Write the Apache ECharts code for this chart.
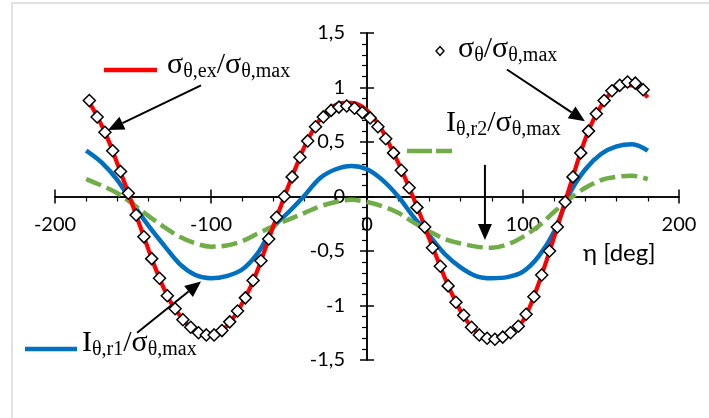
<!DOCTYPE html>
<html>
<head>
<meta charset="utf-8">
<script src="https://cdn.jsdelivr.net/npm/echarts@6/dist/echarts.min.js"></script>
<style>
  html, body { margin: 0; padding: 0; background: #fff; }
  #chart { width: 709px; height: 418px; }
</style>
</head>
<body>
<div id="chart"></div>
<script>
// Angular position around the hole, degrees
const etaFine = [-180,-175,-170,-165,-160,-155,-150,-145,-140,-135,-130,-125,-120,-115,-110,-105,-100,-95,-90,-85,
  -80,-75,-70,-65,-60,-55,-50,-45,-40,-35,-30,-25,-20,-15,-10,-5,0,5,10,15,20,25,30,35,40,45,50,55,60,65,
  70,75,80,85,90,95,100,105,110,115,120,125,130,135,140,145,150,155,160,165,170,175,180];
// sigma_theta,ex / sigma_theta,max (red solid curve)
const sigmaEx = [0.91,0.79,0.65,0.49,0.30,0.11,-0.09,-0.29,-0.49,-0.68,
  -0.85,-0.99,-1.09,-1.18,-1.24,-1.27,-1.28,-1.25,-1.19,-1.10,
  -0.98,-0.84,-0.67,-0.47,-0.27,-0.08,0.11,0.29,0.46,0.60,
  0.71,0.79,0.84,0.86,0.86,0.84,0.79,0.71,0.60,0.46,
  0.31,0.15,-0.02,-0.20,-0.39,-0.57,-0.75,-0.91,-1.05,-1.16,
  -1.24,-1.29,-1.31,-1.30,-1.27,-1.22,-1.14,-0.99,-0.80,-0.59,
  -0.37,-0.14,0.09,0.32,0.53,0.70,0.83,0.93,0.99,1.02,
  1.02,0.98,0.91];

// sigma_theta / sigma_theta,max (diamond markers)
const etaMeas = [-178,-173,-168,-163,-158,-153,-148,-143,-138,-133,-128,-123,-118,-113,-108,-103,-98,-93,-88,-83,
  -78,-73,-68,-63,-58,-53,-48,-43,-38,-33,-28,-23,-18,-13,-8,-3,2,7,12,17,
  22,27,32,37,42,47,52,57,62,67,72,77,82,87,92,97,102,107,112,117,
  122,127,132,137,142,147,152,157,162,167,172,177];
const sigmaMeas = [0.88,0.73,0.59,0.42,0.23,0.03,-0.17,-0.37,-0.57,-0.75,
  -0.91,-1.03,-1.13,-1.20,-1.25,-1.27,-1.27,-1.23,-1.15,-1.05,
  -0.93,-0.77,-0.59,-0.39,-0.19,0.00,0.18,0.36,0.51,0.64,
  0.73,0.79,0.82,0.83,0.81,0.77,0.72,0.64,0.53,0.40,
  0.24,0.08,-0.10,-0.28,-0.47,-0.64,-0.82,-0.97,-1.09,-1.20,
  -1.27,-1.30,-1.31,-1.29,-1.25,-1.19,-1.08,-0.92,-0.72,-0.50,
  -0.28,-0.05,0.18,0.40,0.60,0.76,0.88,0.97,1.02,1.05,
  1.04,0.98];

// I_theta,r1 and I_theta,r2 normalised by sigma_theta,max
const etaCoarse = [-180,-170,-160,-150,-140,-130,-120,-110,-100,-90,-80,-70,-60,-50,-40,-30,-20,-10,0,
  10,20,30,40,50,60,70,80,90,100,110,120,130,140,150,160,170,180];
const iR1 = [0.42,0.31,0.15,-0.07,-0.27,-0.45,-0.62,-0.72,-0.75,-0.73,-0.67,-0.52,-0.28,-0.14,0.01,0.17,0.25,0.28,0.25,
  0.15,0.00,-0.19,-0.36,-0.53,-0.65,-0.73,-0.75,-0.74,-0.69,-0.55,-0.32,0.03,0.25,0.39,0.46,0.48,0.42];
const iR2 = [0.16,0.10,0.03,-0.07,-0.18,-0.28,-0.37,-0.43,-0.46,-0.45,-0.41,-0.34,-0.27,-0.21,-0.15,-0.09,-0.05,-0.03,-0.05,
  -0.09,-0.15,-0.24,-0.32,-0.39,-0.43,-0.46,-0.47,-0.44,-0.37,-0.27,-0.14,-0.02,0.08,0.15,0.18,0.19,0.16];

// Axis ranges and ticks
const xRange = [-200, 200], xStep = 100;
const yRange = [-1.5, 1.5], yStep = 0.5;

const zip = (xs, ys) => xs.map((x, i) => [x, ys[i]]);
const tickFont = 'Lato, "Open Sans", sans-serif';
const serif = '"Liberation Serif", "Times New Roman", serif';

const W = 709, H = 418;
const chart = echarts.init(document.getElementById('chart'), null, { renderer: 'canvas' });

const black = { color: '#000', width: 1.5 };
const box = { left: 55, right: 30, top: 33, bottom: 58 };
const plotW = W - box.left - box.right, plotH = H - box.top - box.bottom;
// Axes cross at the origin: shift each axis from its grid edge to the zero line of the other one
const xAxisOffset = -plotH * (0 - yRange[0]) / (yRange[1] - yRange[0]);
const yAxisOffset = -plotW * (0 - xRange[0]) / (xRange[1] - xRange[0]);

const gridCfg = Object.assign({ containLabel: false, outerBoundsMode: 'none' }, box);

// grid 0: axes with outward major + minor ticks and labels
function mainAxis(range, step, offset, labelCfg) {
  return {
    gridIndex: 0, type: 'value', min: range[0], max: range[1], interval: step, offset: offset,
    axisLine: { show: true, onZero: false, lineStyle: black },
    axisTick: { show: true, length: 7, lineStyle: black },
    minorTick: { show: true, splitNumber: 5, length: 5, lineStyle: { color: '#000', width: 1.2 } },
    axisLabel: Object.assign({ color: '#000', fontFamily: tickFont, fontSize: 20 }, labelCfg),
    splitLine: { show: false }, minorSplitLine: { show: false }
  };
}
// grid 1 (same box): inward major ticks so that they cross the axis line
function innerTicks(range, step, offset) {
  return {
    gridIndex: 1, type: 'value', min: range[0], max: range[1], interval: step, offset: offset,
    axisLine: { show: true, onZero: false, lineStyle: black },
    axisTick: { show: true, inside: true, length: 7, lineStyle: black },
    axisLabel: { show: false }, splitLine: { show: false }, minorTick: { show: false }
  };
}

const option = {
  animation: false,
  backgroundColor: '#fff',
  grid: [Object.assign({}, gridCfg), Object.assign({}, gridCfg)],
  xAxis: [
    Object.assign(mainAxis(xRange, xStep, xAxisOffset, { margin: 18 }), { position: 'bottom' }),
    Object.assign(innerTicks(xRange, xStep, xAxisOffset), { position: 'bottom' })
  ],
  yAxis: [
    Object.assign(mainAxis(yRange, yStep, yAxisOffset, { margin: 22, formatter: v => String(v).replace('.', ',') }), { position: 'left' }),
    Object.assign(innerTicks(yRange, yStep, yAxisOffset), { position: 'left' })
  ],
  series: [
    { type: 'line', data: zip(etaCoarse, iR1), smooth: 0.35, symbol: 'none',
      lineStyle: { color: '#0070c0', width: 4.5 }, z: 2 },
    { type: 'line', data: zip(etaCoarse, iR2), smooth: 0.35, symbol: 'none',
      lineStyle: { color: '#70ad47', width: 4.5, type: [16, 6] }, z: 3 },
    { type: 'line', data: zip(etaFine, sigmaEx), smooth: 0.3, symbol: 'none',
      lineStyle: { color: '#ff0000', width: 4.2 }, z: 4 },
    { type: 'scatter', data: zip(etaMeas, sigmaMeas), symbol: 'diamond', symbolSize: 12,
      itemStyle: { color: '#fff', borderColor: '#000', borderWidth: 1.5, opacity: 1 }, z: 5 }
  ]
};
chart.setOption(option);

// ---- annotations: labels, key samples and arrows ----
const px = p => chart.convertToPixel({ seriesIndex: 0 }, p);

function arrow(tail, tip) {
  const a = px(tail), b = px(tip);
  const dx = b[0] - a[0], dy = b[1] - a[1], L = Math.hypot(dx, dy);
  const ux = dx / L, uy = dy / L, hl = 16, hw = 7;
  const base = [b[0] - ux * hl, b[1] - uy * hl];
  return [
    { type: 'line', z: 100, shape: { x1: a[0], y1: a[1], x2: base[0], y2: base[1] },
      style: { stroke: '#000', lineWidth: 2 } },
    { type: 'polygon', z: 100,
      shape: { points: [b, [base[0] - uy * hw, base[1] + ux * hw], [base[0] + uy * hw, base[1] - ux * hw]] },
      style: { fill: '#000' } }
  ];
}

const rich = {
  b: { fontFamily: serif, fontSize: 30, lineHeight: 32, verticalAlign: 'top', fill: '#000' },
  s: { fontFamily: serif, fontSize: 20, lineHeight: 11, verticalAlign: 'bottom', fill: '#000' }
};
function label(x, y, text) {
  return { type: 'text', x: x, y: y, z: 100,
    style: { text: text, rich: rich, align: 'left', verticalAlign: 'top', fill: '#000' } };
}

const graphics = [
  { type: 'rect', z: 0, shape: { x: 12, y: 3, width: 730, height: 450 },
    style: { fill: 'none', stroke: '#d9d9d9', lineWidth: 1.5 } },
  // key samples
  { type: 'line', z: 100, shape: { x1: 104, y1: 70, x2: 157, y2: 70 }, style: { stroke: '#ff0000', lineWidth: 4.5 } },
  { type: 'line', z: 100, shape: { x1: 25, y1: 349, x2: 77, y2: 349 }, style: { stroke: '#0070c0', lineWidth: 4.5 } },
  { type: 'line', z: 100, shape: { x1: 407, y1: 151, x2: 452, y2: 151 },
    style: { stroke: '#70ad47', lineWidth: 4.5, lineDash: [25, 4] } },
  { type: 'polygon', z: 100, shape: { points: [[440, 46.5], [444, 51], [440, 55.5], [436, 51]] },
    style: { fill: '#fff', stroke: '#000', lineWidth: 1.4 } },
  // series labels
  label(167, 50, '{b|σ}{s|θ,ex}{b|/σ}{s|θ,max}'),
  label(458, 34, '{b|σ}{s|θ}{b|/σ}{s|θ,max}'),
  label(446, 108, '{b|I}{s|θ,r2}{b|/σ}{s|θ,max}'),
  label(82, 328, '{b|I}{s|θ,r1}{b|/σ}{s|θ,max}'),
  // axis title
  { type: 'text', x: 583, y: 253, z: 100,
    style: { text: 'η [deg]', fontFamily: tickFont, fontSize: 24, fill: '#000', align: 'left', verticalAlign: 'middle' } }
].concat(
  arrow([-106.4, 1.02], [-166, 0.61]),
  arrow([89.7, 1.165], [139.7, 0.69]),
  arrow([75.6, 0.29], [75.6, -0.40]),
  arrow([-147.4, -1.25], [-106.4, -0.78])
);

chart.setOption({ graphic: graphics });
</script>
</body>
</html>
